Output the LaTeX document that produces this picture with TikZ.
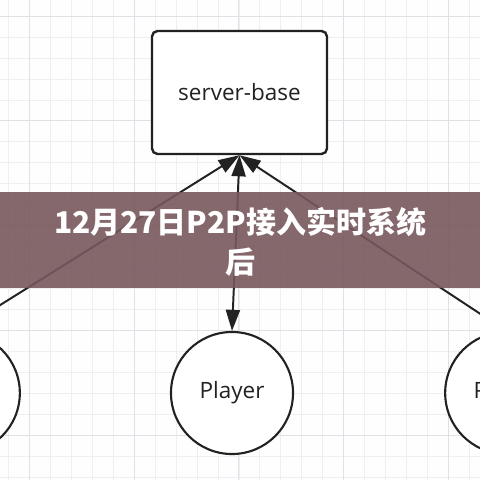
\documentclass[tikz,border=0pt]{standalone}
\usepackage{fontspec}
\setmainfont{Open Sans}
\newfontfamily\cjk{Noto Sans CJK SC}
\usetikzlibrary{positioning,arrows.meta}

\definecolor{gridmajor}{RGB}{224,224,230}
\definecolor{gridminor}{RGB}{239,239,243}
\definecolor{inkline}{RGB}{34,34,34}
\definecolor{bannerfill}{RGB}{120,88,93}

\tikzset{
  server/.style={draw=inkline, line width=1.7pt, rounded corners=4pt, fill=white,
    minimum width=4.375cm, minimum height=3.075cm, font=\fontsize{16}{18}\selectfont,
    text=inkline},
  player/.style={draw=inkline, line width=1.5pt, circle, fill=white,
    minimum size=3.05cm, inner sep=0pt, font=\fontsize{16}{18}\selectfont, text=inkline},
  link/.style={draw=inkline, line width=1.4pt, {Triangle[length=15pt,width=10pt]}-{Triangle[length=15pt,width=10pt]}},
}

\begin{document}
\begin{tikzpicture}[x=0.025cm, y=-0.025cm]

  \clip (0,0) rectangle (480,480);
  \fill[white!98!gridmajor] (0,0) rectangle (480,480);

  % Grid
  \foreach \i in {-5,...,24} {
    \draw[gridminor, line width=0.4pt] (29.3+20.95*\i,0) -- (29.3+20.95*\i,480);
    \draw[gridminor, line width=0.4pt] (0,16+20.95*\i) -- (480,16+20.95*\i);
  }
  \foreach \i in {-1,...,4} {
    \draw[gridmajor, line width=0.7pt] (29.3+104.75*\i,0) -- (29.3+104.75*\i,480);
    \draw[gridmajor, line width=0.7pt] (0,16+104.75*\i) -- (480,16+104.75*\i);
  }

  % Define nodes
  \node[server]                         (base) at (239.5,92.5) {server-base};
  \node[player]                         (p2) at (232,393) {Player};
  \node[player, left=3.725cm of p2]     (p1) {Player};
  \node[player, right=3.75cm of p2]     (p3) {Player};

  % Connect the nodes
  \foreach \p in {p1,p2,p3}
    \draw[link] (base.south) -- (\p.north);

  % Banner
  \fill[bannerfill, opacity=0.9] (0,192) rectangle (480,288);
  \node[align=center, text=white, font=\cjk\bfseries\fontsize{21.3}{28.5}\selectfont]
    (title) at (240,242) {12月27日P2P接入实时系统\\后};

\end{tikzpicture}
\end{document}
